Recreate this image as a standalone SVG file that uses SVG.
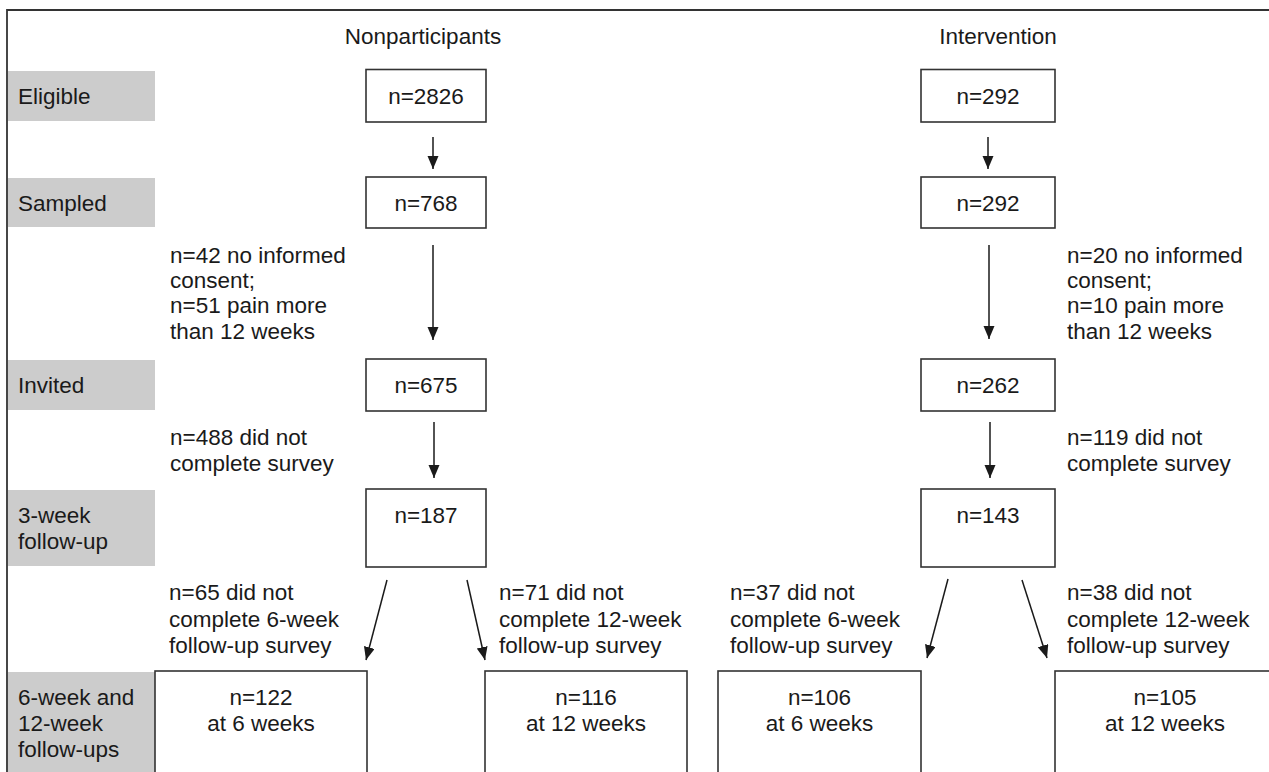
<svg xmlns="http://www.w3.org/2000/svg" width="1269" height="772" viewBox="0 0 1269 772">
<style>
text{font-family:"Liberation Sans",Arial,sans-serif;font-size:22.5px;fill:#1a1a1a}
.c{text-anchor:middle}
.lab{fill:#cccccc;stroke:none}
.box{fill:#ffffff;stroke:#333333;stroke-width:1.6}
.arr{stroke:#1a1a1a;stroke-width:1.5;fill:none;marker-end:url(#ah)}
</style>
<defs>
<marker id="ah" markerUnits="userSpaceOnUse" markerWidth="14" markerHeight="12" refX="13" refY="5.5" orient="auto">
<path d="M0,0 L13,5.5 L0,11 z" fill="#1a1a1a"/>
</marker>
</defs>
<rect width="1269" height="772" fill="#ffffff"/>
<path d="M7,772 L7,10 L1269,10" fill="none" stroke="#333333" stroke-width="1.8"/>

<g id="headers">
<text class="c" x="423" y="44">Nonparticipants</text>
<text class="c" x="998" y="44">Intervention</text>
</g>

<g id="label-eligible"><rect class="lab" x="8" y="71" width="147" height="50"/><text x="18" y="104">Eligible</text></g>
<g id="label-sampled"><rect class="lab" x="8" y="178" width="147" height="49"/><text x="18" y="211">Sampled</text></g>
<g id="label-invited"><rect class="lab" x="8" y="360" width="147" height="50"/><text x="18" y="393">Invited</text></g>
<g id="label-3week"><rect class="lab" x="8" y="490" width="147" height="76"/><text x="18" y="523">3-week</text><text x="18" y="549">follow-up</text></g>
<g id="label-6-12week"><rect class="lab" x="8" y="672" width="147" height="100"/><text x="18" y="705">6-week and</text><text x="18" y="731">12-week</text><text x="18" y="757">follow-ups</text></g>

<g id="np-eligible"><rect class="box" x="366" y="69.5" width="120" height="52.5"/><text class="c" x="426" y="104">n=2826</text></g>
<g id="np-sampled"><rect class="box" x="366" y="177" width="120" height="51"/><text class="c" x="426" y="211">n=768</text></g>
<g id="np-invited"><rect class="box" x="366" y="359" width="120" height="52"/><text class="c" x="426" y="393">n=675</text></g>
<g id="np-3week"><rect class="box" x="366" y="489" width="120" height="78"/><text class="c" x="426" y="523">n=187</text></g>
<g id="np-6week"><rect class="box" x="155" y="671" width="212" height="110"/><text class="c" x="261" y="705">n=122</text><text class="c" x="261" y="731">at 6 weeks</text></g>
<g id="np-12week"><rect class="box" x="485" y="671" width="202" height="110"/><text class="c" x="586" y="705">n=116</text><text class="c" x="586" y="731">at 12 weeks</text></g>

<g id="iv-eligible"><rect class="box" x="921" y="69.5" width="134" height="52.5"/><text class="c" x="988" y="104">n=292</text></g>
<g id="iv-sampled"><rect class="box" x="921" y="177" width="134" height="51"/><text class="c" x="988" y="211">n=292</text></g>
<g id="iv-invited"><rect class="box" x="921" y="359" width="134" height="52"/><text class="c" x="988" y="393">n=262</text></g>
<g id="iv-3week"><rect class="box" x="921" y="489" width="134" height="78"/><text class="c" x="988" y="523">n=143</text></g>
<g id="iv-6week"><rect class="box" x="718" y="671" width="203" height="110"/><text class="c" x="819.5" y="705">n=106</text><text class="c" x="819.5" y="731">at 6 weeks</text></g>
<g id="iv-12week"><rect class="box" x="1055" y="671" width="220" height="110"/><text class="c" x="1165" y="705">n=105</text><text class="c" x="1165" y="731">at 12 weeks</text></g>

<g id="notes">
<text x="170" y="263">n=42 no informed</text>
<text x="170" y="288">consent;</text>
<text x="170" y="313">n=51 pain more</text>
<text x="170" y="339">than 12 weeks</text>
<text x="170" y="445">n=488 did not</text>
<text x="170" y="471">complete survey</text>
<text x="169" y="600">n=65 did not</text>
<text x="169" y="627">complete 6-week</text>
<text x="169" y="653">follow-up survey</text>
<text x="499" y="600">n=71 did not</text>
<text x="499" y="627">complete 12-week</text>
<text x="499" y="653">follow-up survey</text>
<text x="1067" y="263">n=20 no informed</text>
<text x="1067" y="288">consent;</text>
<text x="1067" y="313">n=10 pain more</text>
<text x="1067" y="339">than 12 weeks</text>
<text x="1067" y="445">n=119 did not</text>
<text x="1067" y="471">complete survey</text>
<text x="730" y="600">n=37 did not</text>
<text x="730" y="627">complete 6-week</text>
<text x="730" y="653">follow-up survey</text>
<text x="1067" y="600">n=38 did not</text>
<text x="1067" y="627">complete 12-week</text>
<text x="1067" y="653">follow-up survey</text>
</g>

<g id="connectors">
<line class="arr" x1="433" y1="137" x2="433" y2="169"/>
<line class="arr" x1="433" y1="245" x2="433" y2="340"/>
<line class="arr" x1="434" y1="422" x2="434" y2="478"/>
<line class="arr" x1="387" y1="580" x2="366" y2="660"/>
<line class="arr" x1="467" y1="580" x2="485" y2="660"/>
<line class="arr" x1="988" y1="137" x2="988" y2="169"/>
<line class="arr" x1="989" y1="245" x2="989" y2="339"/>
<line class="arr" x1="990" y1="422" x2="990" y2="478"/>
<line class="arr" x1="948" y1="579" x2="927" y2="658"/>
<line class="arr" x1="1022" y1="580" x2="1047" y2="658"/>
</g>
</svg>
